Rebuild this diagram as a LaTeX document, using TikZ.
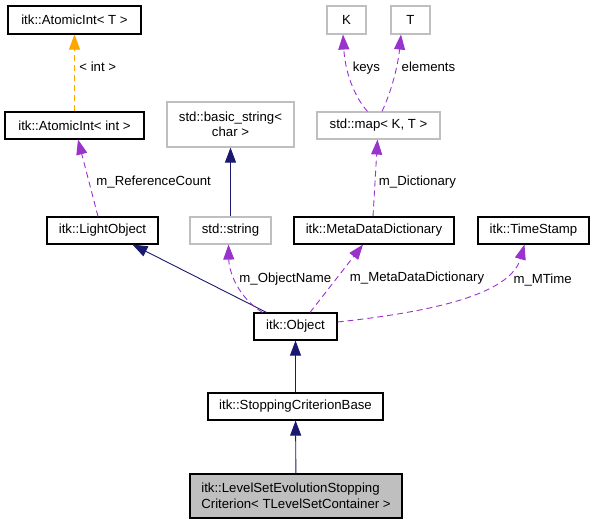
\documentclass[tikz,border=0pt]{standalone}
\usepackage{fontspec}
\setmainfont{Liberation Sans}
\usepackage{tikz}
\usetikzlibrary{positioning, arrows.meta}

\definecolor{edgeblue}{HTML}{191970}
\definecolor{edgepurple}{HTML}{9A32CD}
\definecolor{edgeorange}{HTML}{FFA500}
\definecolor{boxgray}{HTML}{BFBFBF}

\tikzset{
	cls/.style={draw=black, line width=1.1pt, inner sep=0pt, font=\fontsize{13.2}{15.5}\selectfont, minimum height=27pt},
	ext/.style={cls, draw=boxgray},
	me/.style={cls, fill=boxgray, align=left},
	inherit/.style={draw=edgeblue, line width=0.9pt, -{Triangle[length=15pt,width=11pt]}},
	member/.style={draw=edgepurple, line width=0.9pt, dash pattern=on 6pt off 4pt, -{Triangle[length=15pt,width=11pt]}},
	tmpl/.style={draw=edgeorange, line width=0.9pt, dash pattern=on 6pt off 4pt, -{Triangle[length=15pt,width=11pt]}},
	lbl/.style={font=\fontsize{13.2}{15.5}\selectfont, inner sep=2pt, text=black},
}

\begin{document}
\begin{tikzpicture}[x=1pt, y=-1pt]
	\useasboundingbox (0,0) rectangle (593,525);

	\node[cls, minimum width=133pt, minimum height=28pt]	(atomT)		at (74.5,20)	{itk::AtomicInt< T >};
	\node[cls, minimum width=139pt]		(atomInt)	at (74.5,125.5)	{itk::AtomicInt< int >};
	\node[ext, minimum width=127pt, minimum height=45pt, align=center]	(basicStr)	at (230.5,124.5)	{std::basic\_string<\\char >};
	\node[ext, minimum width=39pt, minimum height=28pt]	(tK)		at (346.5,20)	{K};
	\node[ext, minimum width=39pt, minimum height=28pt]	(tT)		at (410.5,20)	{T};
	\node[ext, minimum width=123pt]		(stdMap)	at (378.5,125.5)	{std::map< K, T >};
	\node[cls, minimum width=111pt]		(lightObj)	at (102.5,230.5)	{itk::LightObject};
	\node[ext, minimum width=81pt]		(stdStr)	at (230.5,230.5)	{std::string};
	\node[cls, minimum width=160pt]		(metaDict)	at (374,230.5)	{itk::MetaDataDictionary};
	\node[cls, minimum width=111pt]		(timeStamp)	at (533.5,230.5)	{itk::TimeStamp};
	\node[cls, minimum width=83pt]		(itkObj)	at (295.5,326.5)	{itk::Object};
	\node[cls, minimum width=175pt]		(stopBase)	at (295.5,406.5)	{itk::StoppingCriterionBase};
	\node[me, minimum width=212pt, minimum height=44pt, inner xsep=11pt]	(lsStop)	at (296,496)	{itk::LevelSetEvolutionStopping\\Criterion< TLevelSetContainer >};

	% inheritance
	\path
			(stdStr)	edge[inherit]	(basicStr)
			(stopBase)	edge[inherit]	(itkObj)
			(lsStop)	edge[inherit]	(stopBase)
			([xshift=-29pt]itkObj.north)	edge[inherit]	([xshift=30pt]lightObj.south)
			;

	% members
	\path
			(atomInt)	edge[tmpl]	node[lbl, right=2.5pt, pos=0.58] {< int >}	(atomT)
			([xshift=-4.5pt]lightObj.north)	edge[member]	node[lbl, right=5pt, pos=0.45] {m\_ReferenceCount}	([xshift=3.5pt]atomInt.south)
			([xshift=-1pt]metaDict.north)	edge[member]	node[lbl, right=1.5pt, pos=0.45] {m\_Dictionary}	([xshift=-1pt]stdMap.south)
			([xshift=14.5pt]itkObj.north)	edge[member]	node[lbl, right=11pt, pos=0.5] {m\_MetaDataDictionary}	([xshift=-11pt]metaDict.south)
			;
	\draw[member] ([xshift=-11pt]stdMap.north) .. controls (353,95) and (345,70) .. node[lbl, pos=0.65, right=3pt] {keys} ([xshift=-3.5pt]tK.south);
	\draw[member] ([xshift=3.5pt]stdMap.north) .. controls (392,90) and (398,65) .. node[lbl, pos=0.62, right=3pt] {elements} ([xshift=-9.5pt]tT.south);
	\draw[member] ([xshift=-33pt]itkObj.north) .. controls (238,297) and (229,272) .. node[lbl, pos=0.55, right=2pt] {m\_ObjectName} ([xshift=-2pt]stdStr.south);
	\draw[member] ([yshift=4.5pt]itkObj.east) .. controls (430,312) and (510,295) .. node[lbl, pos=0.72, right=13pt] {m\_MTime} ([xshift=47pt]timeStamp.south west);
\end{tikzpicture}
\end{document}
